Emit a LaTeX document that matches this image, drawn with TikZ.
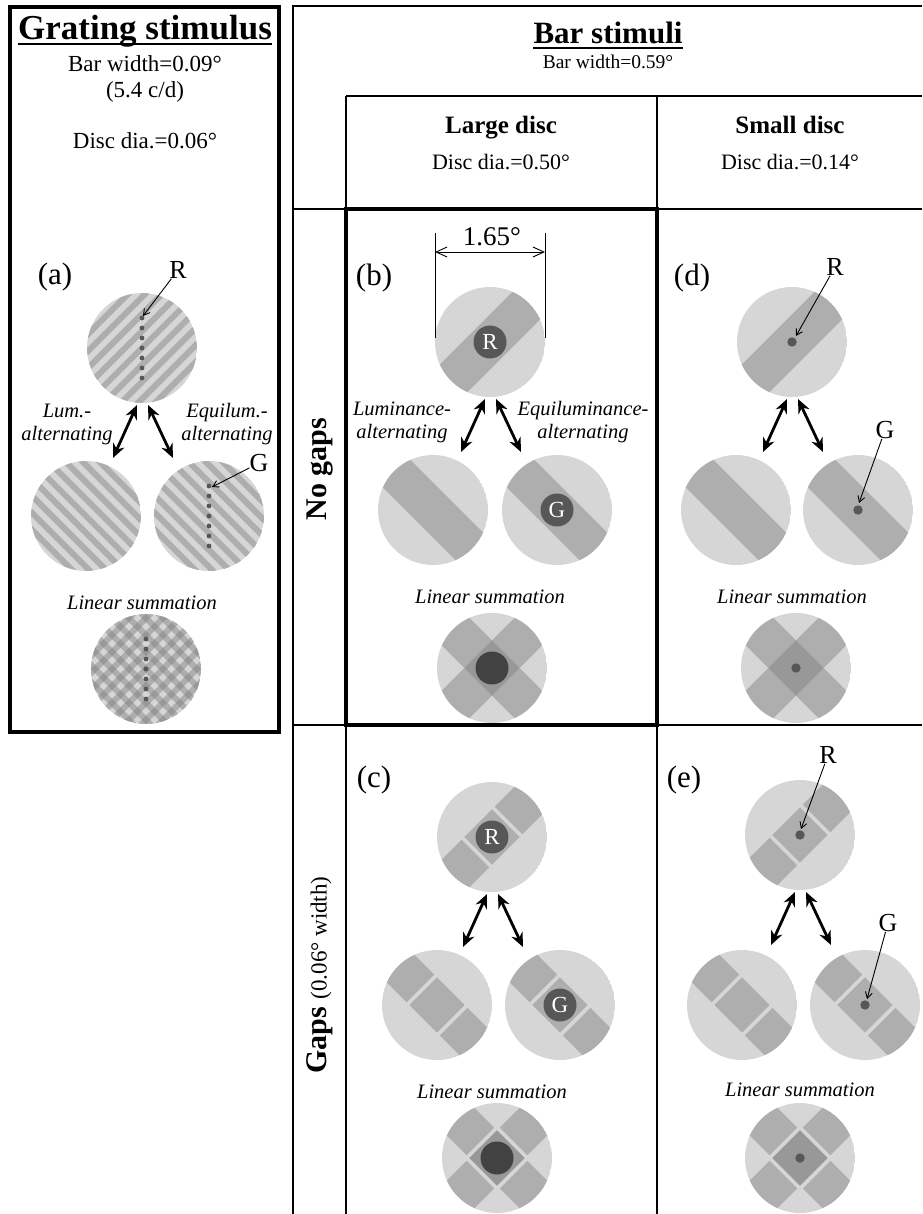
\documentclass[tikz,border=0pt]{standalone}
\usepackage{fontspec}
\setmainfont{Liberation Serif}
\usetikzlibrary{arrows.meta}

\definecolor{disclight}{gray}{0.84}
\definecolor{barshade}{gray}{0.5}
\definecolor{spotdark}{gray}{0.34}
\definecolor{spotdeep}{gray}{0.26}

\tikzset{
  stripe/.style={fill=barshade, fill opacity=0.46},
  thinrule/.style={line width=1.6pt},
  thickrule/.style={line width=3.4pt},
  swaparrow/.style={<->, >={Stealth[length=14pt,width=12pt]}, line width=2.8pt},
  pointer/.style={->, >={Straight Barb[length=6pt,width=7pt]}, line width=0.9pt},
  dimarrow/.style={<->, >={Straight Barb[length=11pt,width=10pt]}, line width=0.9pt},
  headtext/.style={inner sep=0pt, font=\fontsize{35}{38}\selectfont\bfseries},
  coltext/.style={inner sep=0pt, font=\fontsize{25}{28}\selectfont\bfseries},
  rowtext/.style={inner sep=0pt, font=\fontsize{30}{32}\selectfont\bfseries},
  infotext/.style={inner sep=0pt, font=\fontsize{23}{26}\selectfont},
  paneltag/.style={inner sep=0pt, font=\fontsize{31}{33}\selectfont},
  lettertag/.style={inner sep=0pt, font=\fontsize{26}{28}\selectfont},
  captiontext/.style={inner sep=0pt, align=center, font=\fontsize{20.5}{23}\selectfont\itshape},
  bigspot/.style={circle, fill=spotdark, text=white, minimum size=33pt, inner sep=0pt, font=\fontsize{23}{23}\selectfont},
}

% disc with a fine grating, #3 = stripe angle
\newcommand{\grating}[3]{%
  \begin{scope}[shift={(#1,#2)}]
    \clip (0,0) circle (55);
    \fill[disclight] (0,0) circle (55);
    \foreach \k in {-5,...,5}
      \fill[stripe, rotate=#3] (-60,\k*12-3) rectangle (60,\k*12+3);
  \end{scope}}

% both gratings added
\newcommand{\plaid}[2]{%
  \begin{scope}[shift={(#1,#2)}]
    \clip (0,0) circle (55);
    \fill[disclight] (0,0) circle (55);
    \foreach \k in {-5,...,5} {
      \fill[stripe, rotate=45] (-60,\k*12-3) rectangle (60,\k*12+3);
      \fill[stripe, rotate=-45] (-60,\k*12-3) rectangle (60,\k*12+3);
    }
  \end{scope}}

% one solid bar
\newcommand{\bardisc}[3]{%
  \begin{scope}[shift={(#1,#2)}]
    \clip (0,0) circle (55);
    \fill[disclight] (0,0) circle (55);
    \fill[stripe, rotate=#3] (-60,-19.5) rectangle (60,19.5);
  \end{scope}}

% one bar cut by gaps
\newcommand{\gapdisc}[3]{%
  \begin{scope}[shift={(#1,#2)}]
    \clip (0,0) circle (55);
    \fill[disclight] (0,0) circle (55);
    \foreach \a/\b in {-60/-23.5, -19.5/19.5, 23.5/60}
      \fill[stripe, rotate=#3] (\a,-19.5) rectangle (\b,19.5);
  \end{scope}}

% crossed bars
\newcommand{\sumdisc}[2]{%
  \begin{scope}[shift={(#1,#2)}]
    \clip (0,0) circle (55);
    \fill[disclight] (0,0) circle (55);
    \fill[stripe, rotate=45] (-60,-19.5) rectangle (60,19.5);
    \fill[stripe, rotate=-45] (-60,-19.5) rectangle (60,19.5);
  \end{scope}}

% crossed bars with gaps
\newcommand{\sumgapdisc}[2]{%
  \begin{scope}[shift={(#1,#2)}]
    \clip (0,0) circle (55);
    \fill[disclight] (0,0) circle (55);
    \foreach \a/\b in {-60/-23.5, -19.5/19.5, 23.5/60} {
      \fill[stripe, rotate=45] (\a,-19.5) rectangle (\b,19.5);
      \fill[stripe, rotate=-45] (\a,-19.5) rectangle (\b,19.5);
    }
  \end{scope}}

\begin{document}
\begin{tikzpicture}[x=1pt, y=-1pt]
  \useasboundingbox (0,0) rectangle (922,1214);

  % frames
  \draw[thickrule] (10,7) rectangle (279,732);
  \draw[thinrule] (922,6) -- (293,6) -- (293,1214);
  \draw[thinrule] (346,96) -- (922,96);
  \draw[thinrule] (346,96) -- (346,1214);
  \draw[thinrule] (657,96) -- (657,1214);
  \draw[thinrule] (293,209) -- (922,209);
  \draw[thinrule] (293,725) -- (922,725);
  \draw[thickrule] (346,209) rectangle (657,725);

  % headings
  \node[headtext, anchor=base] (gtitle) at (145,40) {Grating stimulus};
  \draw[line width=1.8pt] ([yshift=-4pt]gtitle.base west) -- ([yshift=-4pt]gtitle.base east);
  \node[infotext, anchor=base] (gbar) at (145,72) {Bar width=0.09°};
  \node[infotext, anchor=base] (gfreq) at (145,98) {(5.4 c/d)};
  \node[infotext, anchor=base] (gdisc) at (145,149) {Disc dia.=0.06°};

  \node[headtext, font=\fontsize{31}{34}\selectfont\bfseries, anchor=base] (btitle) at (608,44) {Bar stimuli};
  \draw[line width=1.8pt] ([yshift=-4pt]btitle.base west) -- ([yshift=-4pt]btitle.base east);
  \node[infotext, font=\fontsize{19.5}{22}\selectfont, anchor=base] (bbar) at (608,69) {Bar width=0.59°};
  \node[coltext, anchor=base] (large) at (501,134) {Large disc};
  \node[infotext, font=\fontsize{22}{26}\selectfont, anchor=base] (ldisc) at (501,170) {Disc dia.=0.50°};
  \node[coltext, anchor=base] (small) at (790,134) {Small disc};
  \node[infotext, font=\fontsize{22}{26}\selectfont, anchor=base] (sdisc) at (790,170) {Disc dia.=0.14°};

  \node[rowtext, rotate=90] (nogaps) at (320,469) {No gaps};
  \node[rowtext, rotate=90] (gaps) at (320,975) {Gaps {\mdseries\fontsize{23}{25}\selectfont (0.06° width)}};

  % (a) grating
  \grating{142}{348}{45}
  \foreach \j in {-3,...,3} \fill[spotdark] (142,348+\j*10) circle (2.4);
  \grating{86}{516}{-45}
  \grating{209}{516}{-45}
  \foreach \j in {-3,...,3} \fill[spotdark] (209,516+\j*10) circle (2.4);
  \plaid{146}{669}
  \foreach \j in {-3,...,3} \fill[spotdark] (146,669+\j*10) circle (2.4);
  \node[paneltag] (taga) at (55,277) {(a)};
  \node[lettertag] (ra) at (178,270) {R};
  \coordinate (raend) at (143,316);
  \draw[pointer] (ra) -- (raend);
  \node[lettertag] (ga) at (259,463) {G};
  \coordinate (gaend) at (212,487);
  \draw[pointer] (ga) -- (gaend);
  \node[captiontext] (luma) at (67,424) {Lum.-\\alternating};
  \node[captiontext] (equa) at (227,424) {Equilum.-\\alternating};

  % (b) large disc, no gaps
  \bardisc{490}{342}{45}
  \node[bigspot] (rb) at (490,342) {R};
  \bardisc{433}{510}{-45}
  \bardisc{557}{510}{-45}
  \node[bigspot] (gb) at (557,510) {G};
  \sumdisc{492}{668}
  \fill[spotdeep] (492,668) circle (16.5);
  \node[paneltag] (tagb) at (374,278) {(b)};
  \coordinate (dimleft) at (435,252);
  \coordinate (dimright) at (545,252);
  \draw[line width=0.9pt] (435,233) -- (435,338);
  \draw[line width=0.9pt] (545,233) -- (545,338);
  \draw[dimarrow] (dimleft) -- (dimright);
  \node[anchor=base, inner sep=0pt, font=\fontsize{27}{29}\selectfont] (dimtext) at (492,246) {1.65°};
  \node[captiontext] (lumb) at (402,422) {Luminance-\\alternating};
  \node[captiontext] (equb) at (583,422) {Equiluminance-\\alternating};

  % (d) small disc, no gaps
  \bardisc{792}{342}{45}
  \fill[spotdark] (792,342) circle (4.7);
  \bardisc{736}{510}{-45}
  \bardisc{858}{510}{-45}
  \fill[spotdark] (858,510) circle (4.7);
  \sumdisc{796}{668}
  \fill[spotdark] (796,668) circle (4.7);
  \node[paneltag] (tagd) at (692,278) {(d)};
  \node[lettertag] (rd) at (835,267) {R};
  \coordinate (rdend) at (796,336);
  \draw[pointer] (rd) -- (rdend);
  \node[lettertag] (gd) at (885,430) {G};
  \coordinate (gdend) at (859,503);
  \draw[pointer] (gd) -- (gdend);

  % (c) large disc, gaps
  \gapdisc{492}{837}{45}
  \node[bigspot] (rc) at (492,837) {R};
  \gapdisc{437}{1005}{-45}
  \gapdisc{560}{1005}{-45}
  \node[bigspot] (gc) at (560,1005) {G};
  \sumgapdisc{497}{1158}
  \fill[spotdeep] (497,1158) circle (16.5);
  \node[paneltag] (tagc) at (374,780) {(c)};

  % (e) small disc, gaps
  \gapdisc{800}{835}{45}
  \fill[spotdark] (800,835) circle (4.7);
  \gapdisc{742}{1005}{-45}
  \gapdisc{865}{1005}{-45}
  \fill[spotdark] (865,1005) circle (4.7);
  \sumgapdisc{800}{1158}
  \fill[spotdark] (800,1158) circle (4.7);
  \node[paneltag] (tage) at (684,780) {(e)};
  \node[lettertag] (re) at (828,755) {R};
  \coordinate (reend) at (801,829);
  \draw[pointer] (re) -- (reend);
  \node[lettertag] (ge) at (888,923) {G};
  \coordinate (geend) at (867,999);
  \draw[pointer] (ge) -- (geend);

  % exchange arrows and captions
  \foreach \p/\cx/\cy in {a/142/348, b/490/342, d/792/342, c/492/837, e/800/835} {
    \coordinate (\p1) at (\cx-5,\cy+57);
    \coordinate (\p2) at (\cx-29,\cy+110);
    \coordinate (\p3) at (\cx+6,\cy+57);
    \coordinate (\p4) at (\cx+31,\cy+110);
    \draw[swaparrow] (\p1) -- (\p2);
    \draw[swaparrow] (\p3) -- (\p4);
    \node[captiontext, anchor=base] (sum\p) at (\cx,\cy+261) {Linear summation};
  }
\end{tikzpicture}
\end{document}
